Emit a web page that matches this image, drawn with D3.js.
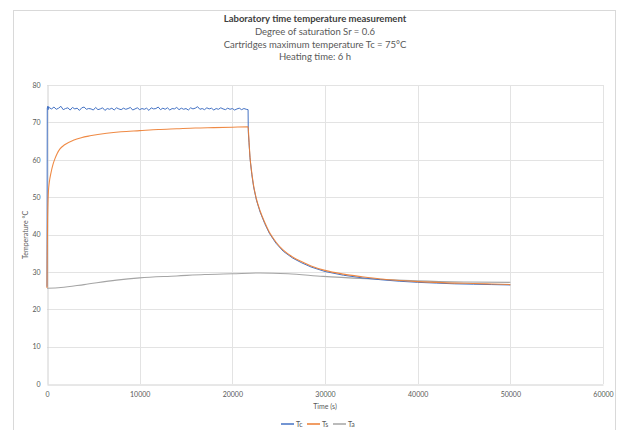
<!DOCTYPE html>
<html>
<head>
<meta charset="utf-8">
<script src="https://cdn.jsdelivr.net/npm/d3@7"></script>
<style>
  body { margin: 0; background: #fff; }
  svg { font-family: "Lato", "Liberation Sans", sans-serif; }
</style>
</head>
<body>
<div id="chart"></div>
<script>
// ---------- DATA ----------
const titleLines = [
  "Laboratory time temperature measurement",
  "Degree of saturation Sr = 0.6",
  "Cartridges maximum temperature Tc = 75°C",
  "Heating time: 6 h"
];
const xTicks = [0, 10000, 20000, 30000, 40000, 50000, 60000];
const yTicks = [0, 10, 20, 30, 40, 50, 60, 70, 80];
const seriesNames = ["Tc", "Ts", "Ta"];
const seriesColors = ["#4472C4", "#ED7D31", "#A5A5A5"];

// Tc: start, plateau (sampled every 250 s), then cooling
const tcStart = [[0, 26.0], [30, 73.8], [80, 74.3], [120, 73.4], [180, 74.2]];
const tcPlateauTimes = d3.range(250, 21501, 250);
const tcPlateauValues = [
  73.9, 73.6, 74.1, 73.5, 73.8, 74.3, 73.4, 73.7, 73.9, 73.3,
  74.0, 73.6, 73.8, 73.2, 73.9, 74.1, 73.5, 73.7, 73.6, 73.3,
  74.0, 73.4, 73.6, 73.9, 73.2, 73.7, 73.5, 73.8, 73.3, 73.9,
  73.6, 73.4, 73.8, 73.5, 73.7, 74.0, 73.3, 73.6, 73.9, 73.4,
  73.7, 73.5, 73.8, 73.2, 73.9, 73.6, 73.7, 74.1, 73.4, 73.8,
  73.5, 73.9, 73.3, 73.7, 73.6, 74.0, 73.4, 73.8, 73.5, 73.7,
  73.3, 73.9, 73.6, 73.8, 74.2, 73.5, 73.7, 73.4, 73.9, 73.6,
  73.8, 73.3, 73.7, 73.5, 73.9, 73.6, 73.4, 73.8, 73.5, 73.7,
  73.3, 73.6, 73.8, 73.4, 73.7, 73.5
];
const tcCooling = [
  [21700, 73.4], [21720, 67.5], [21800, 64.6], [21900, 60.6], [22100, 56.1],
  [22300, 52.7], [22600, 49.2], [23000, 46.0], [23500, 42.9], [24000, 40.3],
  [24700, 37.7], [25500, 35.5], [26500, 33.7], [27500, 32.4], [28500, 31.3],
  [30000, 30.1], [32000, 29.1], [34000, 28.4], [36000, 27.9], [38000, 27.5],
  [40000, 27.2], [42000, 27.0], [44000, 26.8], [46000, 26.7], [48000, 26.6],
  [50000, 26.5]
];

// Ts: surface temperature
const tsTime = [0, 20, 60, 140, 250, 430, 640, 860, 1100, 1400, 1900, 2840,
  3700, 4640, 6440, 8000, 10000, 12000, 14000, 16000, 18000, 20000, 21700,
  21800, 21900, 22100, 22300, 22600, 23000, 23500, 24000, 24700, 25500, 26500,
  27500, 28500, 30000, 32000, 34000, 36000, 38000, 40000, 42000, 44000, 46000,
  48000, 50000];
const tsValue = [25.7, 33.0, 43.0, 51.0, 54.0, 56.5, 58.7, 60.3, 61.7, 62.9, 64.0, 65.2,
  65.9, 66.4, 67.1, 67.5, 67.8, 68.1, 68.3, 68.5, 68.6, 68.7, 68.8,
  65.0, 61.0, 56.5, 53.0, 49.5, 46.3, 43.2, 40.6, 38.0, 35.8, 34.0,
  32.7, 31.6, 30.4, 29.4, 28.7, 28.1, 27.7, 27.4, 27.2, 27.0, 26.9,
  26.75, 26.6];

// Ta: ambient temperature
const taTime = [0, 1500, 4000, 7500, 10000, 14000, 17000, 20000, 23000, 26000,
  29800, 35200, 39900, 45000, 50000];
const taValue = [25.6, 25.8, 26.6, 27.8, 28.4, 28.9, 29.3, 29.5, 29.7, 29.5,
  28.8, 28.1, 27.6, 27.3, 27.2];

// ---------- DRAW ----------
const W = 624, H = 430;
const svg = d3.select("#chart").append("svg")
  .attr("width", W).attr("height", H);

// chart border
svg.append("rect")
  .attr("x", 13.5).attr("y", 10.5)
  .attr("width", 602).attr("height", 430)
  .attr("fill", "none").attr("stroke", "#d9d9d9");

const x = d3.scaleLinear().domain([0, 60000]).range([47, 603]);
const y = d3.scaleLinear().domain([0, 80]).range([384, 85]);

// title
svg.selectAll(".title")
  .data(titleLines)
  .enter()
  .append("text")
  .attr("x", 315)
  .attr("y", (d, i) => 22 + i * 12.8)
  .attr("text-anchor", "middle")
  .style("font-size", "9.5px")
  .style("font-weight", (d, i) => i === 0 ? "bold" : "normal")
  .attr("fill", (d, i) => i === 0 ? "#404040" : "#595959")
  .text(d => d);

// grid
svg.append("g")
  .selectAll("line")
  .data(yTicks.slice(1))
  .enter().append("line")
  .attr("x1", x(0)).attr("x2", x(60000))
  .attr("y1", d => Math.round(y(d)) + 0.5).attr("y2", d => Math.round(y(d)) + 0.5)
  .attr("stroke", "#e3e3e3");

svg.append("g")
  .selectAll("line")
  .data(xTicks.slice(1))
  .enter().append("line")
  .attr("x1", d => Math.round(x(d)) + 0.5).attr("x2", d => Math.round(x(d)) + 0.5)
  .attr("y1", y(0)).attr("y2", y(80))
  .attr("stroke", "#e3e3e3");

// axes
const xAxis = svg.append("g")
  .attr("transform", `translate(0,${Math.round(y(0)) + 0.5})`)
  .call(d3.axisBottom(x).tickValues(xTicks).tickSize(0).tickPadding(8).tickFormat(d3.format("d")));
xAxis.select(".domain").attr("stroke", "#d0d0d0");
xAxis.selectAll("text").attr("fill", "#595959").style("font-size", "7px")
  .style("font-family", "Lato, sans-serif");

const yAxis = svg.append("g")
  .attr("transform", `translate(${Math.round(x(0)) + 0.5},0)`)
  .call(d3.axisLeft(y).tickValues(yTicks).tickSize(0).tickPadding(7));
yAxis.select(".domain").attr("stroke", "#d0d0d0");
yAxis.selectAll("text").attr("fill", "#595959").style("font-size", "7px")
  .style("font-family", "Lato, sans-serif");

// axis titles
svg.append("text")
  .attr("x", 325).attr("y", 409)
  .attr("text-anchor", "middle")
  .style("font-size", "7px").attr("fill", "#595959")
  .text("Time (s)");

svg.append("text")
  .attr("transform", `translate(28,235) rotate(-90)`)
  .attr("text-anchor", "middle")
  .style("font-size", "7px").attr("fill", "#595959")
  .text("Temperature °C");

// series
const tcData = tcStart
  .concat(tcPlateauTimes.map((t, i) => [t, tcPlateauValues[i]]))
  .concat(tcCooling);
const tsData = tsTime.map((t, i) => [t, tsValue[i]]);
const taData = taTime.map((t, i) => [t, taValue[i]]);

const line = d3.line()
  .x(d => x(d[0]))
  .y(d => y(d[1]));
const smooth = d3.line()
  .x(d => x(d[0]))
  .y(d => y(d[1]))
  .curve(d3.curveMonotoneX);

svg.append("path").datum(taData)
  .attr("fill", "none").attr("stroke", seriesColors[2]).attr("stroke-width", 1.1)
  .attr("d", smooth);

svg.append("path").datum(tcData)
  .attr("fill", "none").attr("stroke", seriesColors[0]).attr("stroke-width", 1)
  .attr("stroke-linejoin", "round")
  .attr("d", line);

svg.append("path").datum(tsData)
  .attr("fill", "none").attr("stroke", seriesColors[1]).attr("stroke-width", 1.1)
  .attr("stroke-opacity", 0.9)
  .attr("d", smooth);

// legend
const legendX = [281, 307, 333];
const legend = svg.append("g")
  .selectAll("g")
  .data(seriesNames)
  .enter().append("g")
  .attr("transform", (d, i) => `translate(${legendX[i]},424)`);

legend.append("line")
  .attr("x1", 0).attr("x2", 13)
  .attr("y1", 0).attr("y2", 0)
  .attr("stroke", (d, i) => seriesColors[i])
  .attr("stroke-width", 1.5);

legend.append("text")
  .attr("x", 15).attr("y", 2.5)
  .style("font-size", "7px").attr("fill", "#595959")
  .text(d => d);
</script>
</body>
</html>
